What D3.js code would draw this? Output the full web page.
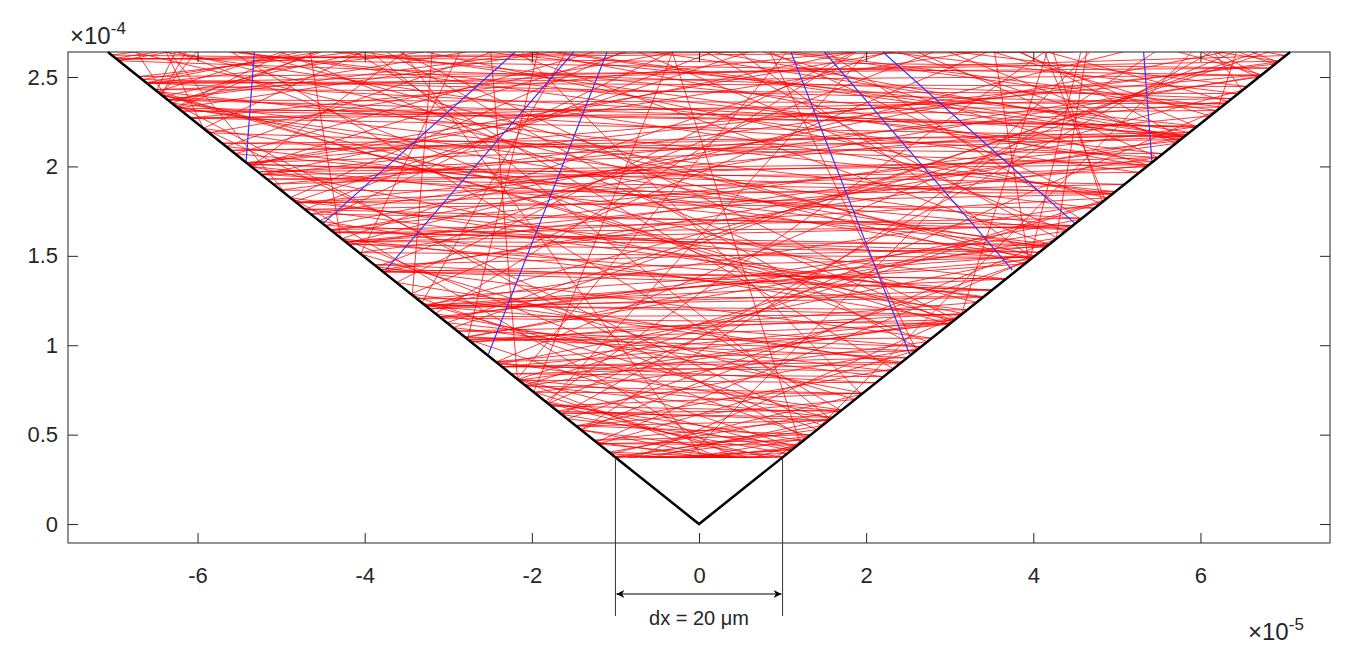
<!DOCTYPE html>
<html><head><meta charset="utf-8">
<script src="https://cdn.jsdelivr.net/npm/d3@7"></script>
<style>body{margin:0;background:#fff}text{font-family:"Liberation Sans",Arial,sans-serif;fill:#262626}</style>
</head><body><div id="chart"></div>
<script>
var W = 1350, H = 646;
var m = {left: 68, right: 20, top: 52, bottom: 103};
var xTicks = [-6, -4, -2, 0, 2, 4, 6];
var yTicks = [0, 0.5, 1, 1.5, 2, 2.5];
var halfAngle = 15;           // cone half angle, degrees
var yTop = 2.64e-4, yStart = 0.37e-4;
// rays leaving the bottom line: x (1e-5) paired with angle from vertical (deg)
var bottomX = [-0.93, -0.71, 0.55, -0.12, 0.84, -0.48, 0.27, -0.86, 0.05, 0.66, -0.35, 0.91, -0.6, 0.14, -0.22, 0.42, -0.77, 0.73, -0.02, 0.33, -0.52, 0.6, -0.15, 0.88];
var bottomA = [-84, 77, -66, 52, -41, 88, -29, 61, -9, 34, -72, 18, 45, -57, 70, -20, 26, -80, 63, -48, 81, -35, 12, -88];
// rays leaving the walls: height (1e-4), side (-1 left, 1 right), angle from horizontal (deg)
var wallH = [0.45, 0.58, 0.66, 0.79, 0.88, 0.97, 1.08, 1.17, 1.26, 1.37, 1.45, 1.52, 1.63, 1.71, 1.8, 1.9, 1.97, 2.05, 2.13, 2.22, 2.31, 2.38, 2.47, 2.55,
             0.5, 0.62, 0.73, 0.84, 0.93, 1.03, 1.12, 1.22, 1.31, 1.41, 1.49, 1.58, 1.67, 1.76, 1.85, 1.93, 2.01, 2.09, 2.18, 2.27, 2.35, 2.43, 2.51, 2.6];
var wallSide = [-1, 1, -1, 1, -1, 1, -1, 1, -1, 1, -1, 1, -1, 1, -1, 1, -1, 1, -1, 1, -1, 1, -1, 1,
                1, -1, 1, -1, 1, -1, 1, -1, 1, -1, 1, -1, 1, -1, 1, -1, 1, -1, 1, -1, 1, -1, 1, -1];
var wallA = [4, -6, 11, 2, -3, 8, -9, 5, 1, -12, 7, 3, -5, 14, -2, 6, 10, -8, 2, 5, -4, 9, -1, 3,
             -7, 3, 6, -2, 12, 1, -10, 4, 8, -3, 2, 15, -6, 5, 1, -4, 9, 3, -8, 2, 6, -1, 4, 2];
var wallA2 = [-2, 9, -5, 13, 3, -7, 6, -1, 18, 4, -11, 8, 2, -4, 11, -6, 3, 16, -3, 7, 1, -5, 5, -2,
              10, -4, 1, 7, -6, 14, 3, -2, -9, 6, 12, -1, 4, -7, 9, 2, -3, 5, 13, -5, 1, 8, -2, 3];
// blue rays: [x1, y1, x2, y2] in 1e-5 / 1e-4 units
var blueRays = [[-5.42, 2.02, -5.32, 2.64], [-4.5, 1.68, -2.2, 2.64], [-3.75, 1.42, -1.5, 2.64], [-2.52, 0.95, -1.1, 2.64],
                [5.42, 2.02, 5.32, 2.64], [4.5, 1.68, 2.2, 2.64], [3.75, 1.42, 1.5, 2.64], [2.52, 0.95, 1.1, 2.64]];

var svg = d3.select('#chart').append('svg').attr('width', W).attr('height', H);
var x = d3.scaleLinear().domain([-7.55e-5, 7.55e-5]).range([m.left, W - m.right]);
var y = d3.scaleLinear().domain([-0.106e-4, yTop]).range([H - m.bottom, m.top]);

var ha = halfAngle * Math.PI / 180;
var t = Math.tan(ha);
var xTopWall = yTop * t;
var walls = [[-Math.sin(ha), Math.cos(ha)], [Math.sin(ha), Math.cos(ha)]];

// trace a ray reflecting off the two cone walls
function trace(px, py, dx, dy, last) {
    var pts = [[px, py]];
    for (var k = 0; k < 60; k++) {
        var best = Infinity, bw = -1;
        walls.forEach(function (w, i) {
            if (i === last) return;
            var nx = -w[1], ny = w[0];
            var den = dx * nx + dy * ny;
            if (Math.abs(den) < 1e-12) return;
            var s = -(px * nx + py * ny) / den;
            if (s > 1e-15 && s < best && py + s * dy >= 0) { best = s; bw = i; }
        });
        var sTop = dy > 0 ? (yTop - py) / dy : Infinity;
        if (sTop < best) { pts.push([px + sTop * dx, yTop]); break; }
        if (bw < 0) break;
        px += best * dx; py += best * dy;
        pts.push([px, py]);
        var w = walls[bw], nx = -w[1], ny = w[0];
        var d = dx * nx + dy * ny;
        dx -= 2 * d * nx; dy -= 2 * d * ny;
        last = bw;
    }
    return pts;
}

var line = d3.line().x(function (d) { return x(d[0]); }).y(function (d) { return y(d[1]); });
svg.append('clipPath').attr('id', 'clip').append('path')
   .attr('d', line([[-xTopWall, yTop], [-yStart * t, yStart], [yStart * t, yStart], [xTopWall, yTop]]) + 'Z');

var rays = [];
bottomX.forEach(function (bx, i) {
    var a = bottomA[i] * Math.PI / 180;
    rays.push(trace(bx * 1e-5, yStart, Math.sin(a), Math.cos(a), -1));
});
[wallA, wallA2].forEach(function (angles) {
    wallH.forEach(function (h, i) {
        var s = wallSide[i], a = angles[i] * Math.PI / 180;
        var hy = h * 1e-4;
        rays.push(trace(s * hy * t, hy, -s * Math.cos(a), Math.sin(a), s < 0 ? 0 : 1));
    });
});
var g = svg.append('g').attr('clip-path', 'url(#clip)');
g.selectAll('path.ray').data(rays).enter().append('path')
  .attr('d', line).attr('fill', 'none').attr('stroke', '#ff0000').attr('stroke-width', 0.9).attr('stroke-opacity', 0.85);
g.selectAll('line.bottom').data([0]).enter().append('line')
  .attr('x1', x(-yStart * t)).attr('x2', x(yStart * t)).attr('y1', y(yStart) - 1).attr('y2', y(yStart) - 1)
  .attr('stroke', '#ff0000').attr('stroke-width', 1);
g.selectAll('line.blue').data(blueRays).enter().append('line')
  .attr('x1', function (d) { return x(d[0] * 1e-5); }).attr('y1', function (d) { return y(d[1] * 1e-4); })
  .attr('x2', function (d) { return x(d[2] * 1e-5); }).attr('y2', function (d) { return y(d[3] * 1e-4); })
  .attr('stroke', '#3333ff').attr('stroke-width', 1.2);

// cone walls
svg.append('path').attr('d', line([[-xTopWall, yTop], [0, 0], [xTopWall, yTop]]))
   .attr('fill', 'none').attr('stroke', '#000').attr('stroke-width', 2.5);

// axes box
svg.append('rect').attr('x', m.left).attr('y', m.top).attr('width', W - m.left - m.right)
   .attr('height', H - m.top - m.bottom).attr('fill', 'none').attr('stroke', '#262626');
var xa = svg.append('g').attr('transform', 'translate(0,' + (H - m.bottom) + ')')
  .call(d3.axisBottom(x).tickValues(xTicks.map(function (v) { return v * 1e-5; })).tickSizeInner(-10).tickSizeOuter(0).tickPadding(24)
  .tickFormat(function (d) { return String(Math.round(d * 1e5)); }));
var ya = svg.append('g').attr('transform', 'translate(' + m.left + ',0)')
  .call(d3.axisLeft(y).tickValues(yTicks.map(function (v) { return v * 1e-4; })).tickSizeInner(-10).tickSizeOuter(0).tickPadding(10)
  .tickFormat(function (d) { return String(Math.round(d * 1e5) / 10); }));
var ya2 = svg.append('g').attr('transform', 'translate(' + (W - m.right) + ',0)')
  .call(d3.axisRight(y).tickValues(yTicks.map(function (v) { return v * 1e-4; })).tickSizeInner(-10).tickSizeOuter(0).tickFormat(''));
var xa2 = svg.append('g').attr('transform', 'translate(0,' + m.top + ')')
  .call(d3.axisTop(x).tickValues(xTicks.map(function (v) { return v * 1e-5; })).tickSizeInner(-10).tickSizeOuter(0).tickFormat(''));
[xa, ya, ya2, xa2].forEach(function (a) {
    a.select('.domain').remove();
    a.selectAll('line').attr('stroke', '#262626');
    a.selectAll('text').style('font-size', '22px').attr('fill', '#262626');
});

// exponents
var e1 = svg.append('text').attr('x', 70).attr('y', 44).style('font-size', '24px');
e1.append('tspan').text('\u00d710');
e1.append('tspan').attr('dy', -10).style('font-size', '17px').text('-4');
var e2 = svg.append('text').attr('x', 1248).attr('y', 640).style('font-size', '24px');
e2.append('tspan').text('\u00d710');
e2.append('tspan').attr('dy', -10).style('font-size', '17px').text('-5');

// dx annotation
var xl = x(-1e-5), xr = x(1e-5);
[xl, xr].forEach(function (xx) {
    svg.append('line').attr('x1', xx).attr('x2', xx).attr('y1', y(yStart)).attr('y2', 616).attr('stroke', '#333').attr('stroke-width', 1);
});
svg.append('defs').append('marker').attr('id', 'arr').attr('viewBox', '0 0 10 10').attr('refX', 10).attr('refY', 5)
   .attr('markerWidth', 8).attr('markerHeight', 8).attr('orient', 'auto-start-reverse')
   .append('path').attr('d', 'M0,0L10,5L0,10L3,5z').attr('fill', '#000');
svg.append('line').attr('x1', xl + 1).attr('x2', xr - 1).attr('y1', 594).attr('y2', 594)
   .attr('stroke', '#000').attr('marker-start', 'url(#arr)').attr('marker-end', 'url(#arr)');
svg.append('text').attr('x', (xl + xr) / 2).attr('y', 625).attr('text-anchor', 'middle').style('font-size', '20px').text('dx = 20 \u03bcm');
</script></body></html>
